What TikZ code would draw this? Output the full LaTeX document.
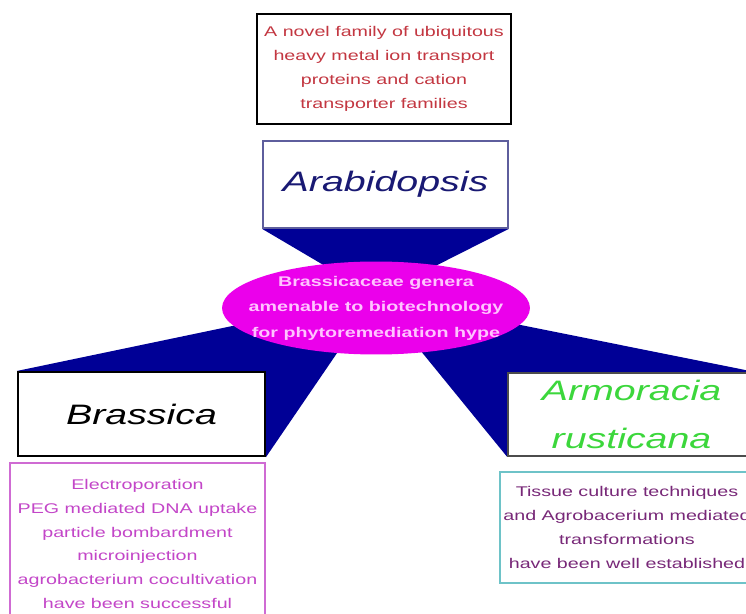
\documentclass[tikz,border=0pt]{standalone}
\usepackage{fontspec}
\usetikzlibrary{positioning,calc,backgrounds}
\newfontfamily\widesans[FakeStretch=1.4]{Liberation Sans}
\definecolor{navyfill}{RGB}{0,0,150}
\definecolor{hubpink}{RGB}{235,0,235}
\definecolor{hubtext}{RGB}{255,195,255}
\definecolor{rust}{RGB}{195,55,65}
\definecolor{deepnavy}{RGB}{25,25,115}
\definecolor{lime}{RGB}{60,215,60}
\definecolor{orchid}{RGB}{195,70,200}
\definecolor{plum}{RGB}{120,40,120}
\definecolor{teal}{RGB}{110,195,200}
\tikzset{
  card/.style={draw=#1,fill=white,line width=1pt,inner sep=0pt,align=center},
  card/.default=black,
  note/.style={text=#1,font=\widesans\fontsize{8}{13.6}\selectfont},
  genus/.style={text=#1,font=\widesans\itshape\fontsize{16}{27}\selectfont},
}
\begin{document}
\begin{tikzpicture}[x=0.02cm,y=-0.02cm]
  \useasboundingbox (0,0) rectangle (746,614);
  \clip (0,0) rectangle (746,614);
  % boxes
  \node[card,note=rust,minimum width=5.08cm,minimum height=2.2cm] (topnote) at (384,69)
    {A novel family of ubiquitous\\heavy metal ion transport\\proteins and cation\\transporter families};
  \node[card=deepnavy!70,genus=deepnavy,minimum width=4.9cm,minimum height=1.74cm] (arabid) at (385.5,184.5) {Arabidopsis};
  \node[font=\widesans\bfseries\fontsize{8}{14.5}\selectfont,text=hubtext,align=center] (hub) at (376,308)
    {Brassicaceae genera\\amenable to biotechnology\\for phytoremediation hype};
  \node[card,genus=black,minimum width=4.94cm,minimum height=1.68cm,line width=1.2pt] (brassica) at (141.5,414) {Brassica};
  \node[card=black!70,genus=lime,minimum width=4.94cm,minimum height=1.66cm] (armor) at (631.5,414.5) {Armoracia\\rusticana};
  \node[card=orchid!80,note=orchid,minimum width=5.1cm,minimum height=3.24cm,line width=0.8pt] (brassnote) at (137.5,544)
    {Electroporation\\PEG mediated DNA uptake\\particle bombardment\\microinjection\\agrobacterium cocultivation\\have been successful};
  \node[card=teal,note=plum,minimum width=5.08cm,minimum height=2.22cm,line width=0.8pt] (armornote) at (627,527.5)
    {Tissue culture techniques\\and Agrobacerium mediated\\transformations\\have been well established};
  % wedges and hub
  \begin{scope}[on background layer]
    \coordinate (apex) at ($(hub.center)+(0,-12)$);
    \fill[navyfill] (arabid.south west) -- (arabid.south east) -- (apex) -- cycle;
    \fill[navyfill] (brassica.north west) -- (apex) -- (brassica.south east) -- cycle;
    \fill[navyfill] (armor.north east) -- (apex) -- (armor.south west) -- cycle;
    \fill[hubpink] (hub.center) ellipse [x radius=3.08cm,y radius=0.93cm];
  \end{scope}
\end{tikzpicture}
\end{document}
